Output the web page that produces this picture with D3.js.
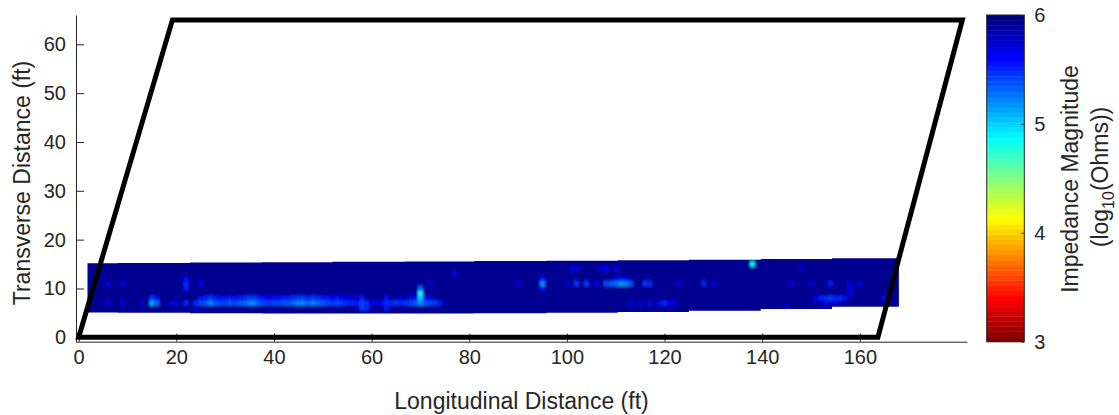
<!DOCTYPE html>
<html>
<head>
<meta charset="utf-8">
<script src="https://cdn.jsdelivr.net/npm/d3@7"></script>
<style>
  body { margin: 0; background: #fff; }
  svg { display: block; }
  text { font-family: "Liberation Sans", Arial, Helvetica, sans-serif; fill: #262626; }
</style>
</head>
<body>
<svg id="chart" width="1119" height="415"></svg>
<script>
// ---- axis ticks ----
const xTicks = [0, 20, 40, 60, 80, 100, 120, 140, 160];
const yTicks = [0, 10, 20, 30, 40, 50, 60];
const colorTicks = [3, 4, 5, 6];

// ---- deck outline (ft) ----
const outlineX = [0, 19.2, 181.0, 163.7];
const outlineY = [0, 65.0, 65.0, 0];

// ---- scanned strip: pass boundaries and strip edges per pass (ft) ----
const passEdges  = [1.8, 8, 22.8, 37.5, 52, 66.8, 81, 95.8, 110.4, 125, 139.7, 154.3, 168];
const passTop    = [15.15, 15.2, 15.3, 15.35, 15.45, 15.5, 15.6, 15.7, 15.8, 15.9, 16.05, 16.2];
const passBottom = [5.1, 5.05, 4.95, 4.9, 4.9, 4.9, 4.95, 5.05, 5.2, 5.45, 5.8, 6.25];

// ---- impedance, log10(Ohms): background level and lower-impedance readings on a 1 ft grid ----
const baseImpedance = 5.95;
const readingX = [
  // lower line, 0-25 ft
  6, 9, 13, 15, 16, 15, 16, 19, 20, 22, 24, 24,
  // lower line, 25-57 ft (row 7)
  25, 26, 27, 28, 29, 30, 31, 32, 33, 34, 35, 36, 37, 38, 39, 40, 41, 42,
  43, 44, 45, 46, 47, 48, 49, 50, 51, 52, 53, 54, 55, 56, 57,
  // lower line, 25-57 ft (row 8)
  25, 26, 27, 28, 29, 30, 31, 32, 33, 34, 35, 36, 37, 38, 39, 40, 41, 42,
  43, 44, 45, 46, 47, 48, 49, 50, 51, 52, 53, 54, 55, 56, 57,
  // 58-74 ft
  58, 58, 58, 59, 59, 60, 61, 62, 63, 63, 63,
  64, 65, 66, 67, 68, 69, 70, 71, 72, 73, 74,
  66, 68, 69, 71, 72,
  70, 70, 70, 72, 77,
  // upper line
  6, 9, 22, 22, 22, 25, 90, 95, 95, 95, 100, 102, 104, 106, 108, 109, 110, 111, 112, 113,
  110, 111, 112,
  116, 117, 123, 128, 130, 146, 150, 154, 158, 160,
  101, 102, 107, 108, 110, 148, 138,
  // lower line, right half
  113, 115, 117, 119, 120, 121, 122, 145, 151, 152, 153, 154, 155, 156, 157, 153, 155, 158, 158, 165
];
const readingY = [
  7, 7, 7, 7, 7, 8, 8, 7, 7, 7, 7, 6,
  7, 7, 7, 7, 7, 7, 7, 7, 7, 7, 7, 7, 7, 7, 7, 7, 7, 7,
  7, 7, 7, 7, 7, 7, 7, 7, 7, 7, 7, 7, 7, 7, 7,
  8, 8, 8, 8, 8, 8, 8, 8, 8, 8, 8, 8, 8, 8, 8, 8, 8, 8,
  8, 8, 8, 8, 8, 8, 8, 8, 8, 8, 8, 8, 8, 8, 8,
  6, 7, 8, 6, 7, 7, 7, 7, 6, 7, 8,
  7, 7, 7, 7, 7, 7, 7, 7, 7, 7, 7,
  8, 8, 8, 8, 8,
  8, 9, 10, 11, 13,
  11, 11, 10, 11, 12, 11, 11, 11, 12, 10, 11, 11, 11, 11, 11, 11, 11, 11, 11, 11,
  12, 12, 12,
  11, 11, 11, 11, 11, 11, 11, 11, 11, 11,
  14, 14, 14, 14, 14, 14, 15,
  7, 7, 7, 7, 7, 7, 7, 6, 8, 8, 8, 8, 8, 8, 8, 7, 7, 9, 10, 8
];
const readingZ = [
  5.7, 5.7, 5.7, 5.1, 5.3, 5.45, 5.6, 5.7, 5.7, 5.5, 5.5, 5.75,
  5.4, 5.35, 5.2, 5.35, 5.4, 5.4, 5.35, 5.4, 5.35, 5.3, 5.2, 5.2, 5.35, 5.4, 5.45, 5.4, 5.4, 5.35,
  5.35, 5.3, 5.2, 5.2, 5.3, 5.2, 5.3, 5.35, 5.4, 5.45, 5.4, 5.45, 5.5, 5.5, 5.55,
  5.6, 5.55, 5.45, 5.55, 5.6, 5.6, 5.55, 5.6, 5.55, 5.5, 5.45, 5.45, 5.55, 5.6, 5.65, 5.6, 5.6, 5.55,
  5.55, 5.5, 5.45, 5.45, 5.5, 5.45, 5.5, 5.55, 5.6, 5.65, 5.6, 5.65, 5.7, 5.7, 5.75,
  5.45, 5.4, 5.55, 5.5, 5.5, 5.7, 5.65, 5.7, 5.55, 5.5, 5.6,
  5.5, 5.45, 5.5, 5.45, 5.4, 5.35, 5.2, 5.35, 5.4, 5.45, 5.55,
  5.7, 5.65, 5.6, 5.6, 5.65,
  5.0, 4.85, 5.35, 5.75, 5.7,
  5.7, 5.7, 5.55, 5.5, 5.6, 5.65, 5.7, 5.2, 5.6, 5.6, 5.7, 5.45, 5.45, 5.65, 5.4, 5.35, 5.3, 5.15, 5.2, 5.35,
  5.7, 5.65, 5.7,
  5.45, 5.5, 5.7, 5.5, 5.7, 5.7, 5.7, 5.55, 5.7, 5.7,
  5.7, 5.7, 5.7, 5.65, 5.7, 5.75, 4.85,
  5.75, 5.7, 5.65, 5.6, 5.5, 5.65, 5.7, 5.7, 5.65, 5.55, 5.5, 5.45, 5.5, 5.5, 5.6, 5.65, 5.65, 5.7, 5.7, 5.6
];

// ---- layout ----
const svg = d3.select("#chart");
const plot = { left: 76, right: 967, top: 15, bottom: 341.7 };
const bar = { left: 986.7, right: 1024.3 };

const x = d3.scaleLinear().domain([-0.55, 181.95]).range([plot.left, plot.right]);
const y = d3.scaleLinear().domain([-0.9, 66]).range([plot.bottom, plot.top]);
const cb = d3.scaleLinear().domain([3, 6]).range([plot.bottom, plot.top]);

// reversed jet colormap over [3, 6]: 6 is dark blue, 3 is dark red
const jet = d3.scaleLinear()
  .domain([0, 0.125, 0.375, 0.625, 0.875, 1])
  .range(["#000080", "#0000ff", "#00ffff", "#ffff00", "#ff0000", "#800000"])
  .interpolate(d3.interpolateRgb)
  .clamp(true);
const colorOf = v => jet((6 - v) / 3);
const nLevels = 64;
const levelColor = i => jet((nLevels - 1 - i) / (nLevels - 1)); // i = 0 at value 3

const defs = svg.append("defs");

// strip outline built from the pass edges
const stripPts = [];
passTop.forEach((t, i) => { stripPts.push([passEdges[i], t], [passEdges[i + 1], t]); });
for (let i = passBottom.length - 1; i >= 0; i--) {
  stripPts.push([passEdges[i + 1], passBottom[i]], [passEdges[i], passBottom[i]]);
}
defs.append("clipPath").attr("id", "strip")
  .append("path")
  .attr("d", d3.line().x(d => x(d[0])).y(d => y(d[1])).curve(d3.curveLinearClosed)(stripPts));

const blur = defs.append("filter").attr("id", "soft")
  .attr("x", "-5%").attr("y", "-20%").attr("width", "110%").attr("height", "140%");
blur.append("feGaussianBlur").attr("stdDeviation", "1.2 1.5");

// full grid: background level everywhere, readings override
const readings = new Map();
readingX.forEach((xv, i) => readings.set(xv + "," + readingY[i], readingZ[i]));
const cells = [];
for (let gx = 1; gx <= 169; gx++) {
  for (let gy = 3; gy <= 17; gy++) {
    const k = gx + "," + gy;
    if (readings.has(k)) cells.push({ x: gx, y: gy, v: readings.get(k) });
  }
}

const stripG = svg.append("g").attr("clip-path", "url(#strip)");
const cellG = stripG.append("g").attr("filter", "url(#soft)");
cellG.append("rect")
  .attr("x", x(0)).attr("y", y(18))
  .attr("width", x(170) - x(0)).attr("height", y(2) - y(18))
  .attr("fill", colorOf(baseImpedance));
cellG.selectAll("rect.cell").data(cells).join("rect")
  .attr("class", "cell")
  .attr("x", d => x(d.x - 0.5))
  .attr("y", d => y(d.y + 0.5))
  .attr("width", d => x(d.x + 0.5) - x(d.x - 0.5))
  .attr("height", d => y(d.y - 0.5) - y(d.y + 0.5))
  .attr("fill", d => colorOf(d.v));

// axes
const styleAxis = g => {
  g.attr("font-family", null).attr("font-size", null);
  g.select(".domain").attr("stroke", "#262626").attr("stroke-width", 1);
  g.selectAll(".tick line").attr("stroke", "#262626");
  g.selectAll(".tick text").style("font-size", "20px").attr("fill", "#262626");
};

svg.append("g")
  .attr("transform", `translate(0,${plot.bottom})`)
  .call(d3.axisBottom(x).tickValues(xTicks).tickSizeInner(-8).tickSizeOuter(0).tickPadding(8))
  .call(styleAxis);

svg.append("g")
  .attr("transform", `translate(${plot.left},0)`)
  .call(d3.axisLeft(y).tickValues(yTicks).tickSizeInner(-8).tickSizeOuter(0).tickPadding(10))
  .call(styleAxis);

// deck outline
const outline = outlineX.map((xv, i) => [xv, outlineY[i]]);
svg.append("path")
  .attr("d", d3.line().x(d => x(d[0])).y(d => y(d[1])).curve(d3.curveLinearClosed)(outline))
  .attr("fill", "none")
  .attr("stroke", "#000")
  .attr("stroke-width", 5)
  .attr("stroke-linejoin", "miter");

// axis titles
svg.append("text")
  .attr("x", (plot.left + plot.right) / 2).attr("y", 409)
  .attr("text-anchor", "middle").style("font-size", "23px")
  .text("Longitudinal Distance (ft)");

svg.append("text")
  .attr("transform", "translate(30,183) rotate(-90)")
  .attr("text-anchor", "middle").style("font-size", "23px")
  .text("Transverse Distance (ft)");

// colorbar
const levels = d3.range(nLevels);
const step = 3 / nLevels;
svg.append("g").selectAll("rect").data(levels).join("rect")
  .attr("x", bar.left)
  .attr("width", bar.right - bar.left)
  .attr("y", i => cb(3 + (i + 1) * step))
  .attr("height", i => cb(3 + i * step) - cb(3 + (i + 1) * step) + 0.4)
  .attr("fill", i => levelColor(i));

svg.append("rect")
  .attr("x", bar.left).attr("y", plot.top)
  .attr("width", bar.right - bar.left).attr("height", plot.bottom - plot.top)
  .attr("fill", "none").attr("stroke", "#262626").attr("stroke-width", 1);

svg.append("g")
  .attr("transform", `translate(${bar.right},0)`)
  .call(d3.axisRight(cb).tickValues(colorTicks).tickFormat(d3.format("d"))
    .tickSizeInner(-3).tickSizeOuter(0).tickPadding(10))
  .call(g => g.select(".domain").remove())
  .call(styleAxis);

svg.append("text")
  .attr("transform", "translate(1078,179) rotate(-90)")
  .attr("text-anchor", "middle").style("font-size", "23px")
  .text("Impedance Magnitude");

const cbTitle2 = svg.append("text")
  .attr("transform", "translate(1108,177) rotate(-90)")
  .attr("text-anchor", "middle").style("font-size", "23px");
cbTitle2.append("tspan").text("(log");
cbTitle2.append("tspan").attr("dy", 6).style("font-size", "16px").text("10");
cbTitle2.append("tspan").attr("dy", -6).text("(Ohms))");
</script>
</body>
</html>
